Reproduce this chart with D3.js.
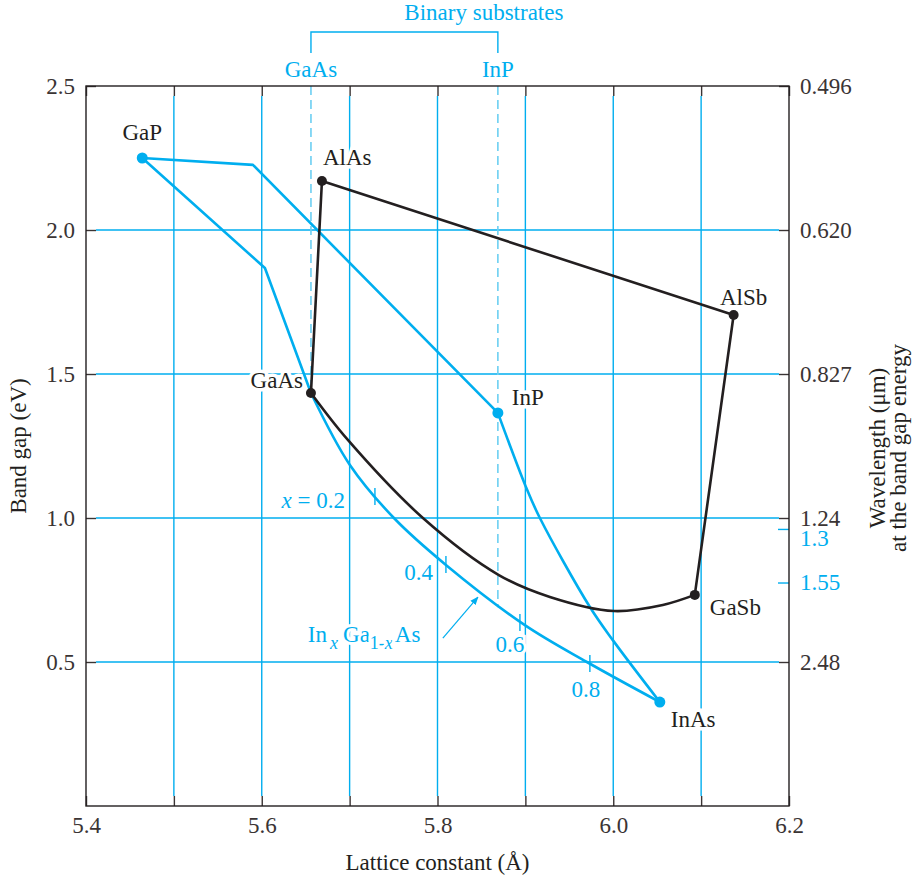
<!DOCTYPE html>
<html>
<head>
<meta charset="utf-8">
<script src="https://cdn.jsdelivr.net/npm/d3@7"></script>
<style>
  body { margin: 0; background: #fff; }
  text { font-family: "Liberation Serif", "Times New Roman", serif; font-size: 23px; fill: #231f20; }
</style>
</head>
<body>
<div id="chart"></div>
<script>
// --- data ---
const latticeTicks = [5.4, 5.5, 5.6, 5.7, 5.8, 5.9, 6.0, 6.1, 6.2];
const latticeTickLabels = ["5.4", "", "5.6", "", "5.8", "", "6.0", "", "6.2"];
const latticeGrid = [5.5, 5.6, 5.7, 5.8, 5.9, 6.0, 6.1];
const gapTicks = [0.5, 1.0, 1.5, 2.0, 2.5];
const gapTickLabels = ["0.5", "1.0", "1.5", "2.0", "2.5"];
const gapGrid = [0.5, 1.0, 1.5, 2.0];
const wavelengthTicks = [2.5, 2.0, 1.5, 1.0, 0.5];
const wavelengthLabels = ["0.496", "0.620", "0.827", "1.24", "2.48"];
const telecomTicks = [0.962, 0.776];
const telecomLabels = ["1.3", "1.55"];

// binary compounds: lattice constant (Å), band gap (eV)
const binaryNames = ["GaP", "AlAs", "AlSb", "GaAs", "InP", "GaSb", "InAs"];
const binaryLattice = [5.464, 5.6685, 6.137, 5.656, 5.8687, 6.0928, 6.053];
const binaryGap = [2.25, 2.17, 1.705, 1.434, 1.365, 0.733, 0.361];
const binaryFamily = ["cyan", "black", "black", "black", "cyan", "black", "cyan"];

// cyan ternaries
const gapToInP = [[5.464, 2.25], [5.590, 2.226], [5.8687, 1.365]];
const inPToInAs = [[5.8687, 1.365], [5.9006, 1.108], [5.9165, 1.0], [5.9734, 0.691],
  [5.9995, 0.576], [6.053, 0.361]];
const gapToGaAs = [[5.464, 2.25], [5.6036, 1.868], [5.656, 1.434]];
const inGaAs = [[5.656, 1.434], [5.7003, 1.184], [5.7504, 1.0], [5.8096, 0.837],
  [5.8994, 0.628], [5.970, 0.50], [6.053, 0.361]];

// black ternaries
const alEdges = [[5.656, 1.434], [5.6685, 2.17], [6.137, 1.705], [6.0928, 0.733]];
const gaAsToGaSb = [[5.656, 1.434], [5.698, 1.271], [5.7834, 1.0], [5.8698, 0.802],
  [5.9279, 0.726], [6.0007, 0.677], [6.0564, 0.698], [6.0928, 0.733]];

// In(x)Ga(1-x)As composition marks
const compositionLabels = ["0.2", "0.4", "0.6", "0.8"];
const compositionLattice = [5.7288, 5.8096, 5.8938, 5.9734];
const compositionGap = [1.073, 0.837, 0.635, 0.493];

// binary substrate guides
const substrateNames = ["GaAs", "InP"];
const substrateLattice = [5.656, 5.8687];
const substrateGapEnd = [1.434, 0.69];

// --- layout ---
const cyan = "#00aeef";
const ink = "#231f20";
const tickInk = "#3a3434";
const margin = { top: 86, right: 129, bottom: 76, left: 86 };
const width = 918 - margin.left - margin.right;
const height = 882 - margin.top - margin.bottom;
const tickLen = 10;

const svg = d3.select("#chart").append("svg")
  .attr("width", 918)
  .attr("height", 882);

const chart = svg.append("g")
  .attr("transform", `translate(${margin.left},${margin.top})`);

const x = d3.scaleLinear().domain([5.4, 6.2]).range([0, width]);
const y = d3.scaleLinear().domain([0, 2.5]).range([height, 0]);

// gridlines
chart.selectAll(".vgrid")
  .data(latticeGrid)
  .join("line")
  .attr("class", "vgrid")
  .attr("x1", d => x(d)).attr("x2", d => x(d))
  .attr("y1", height - tickLen).attr("y2", tickLen)
  .attr("stroke", cyan).attr("stroke-width", 1.4);

chart.selectAll(".hgrid")
  .data(gapGrid)
  .join("line")
  .attr("class", "hgrid")
  .attr("x1", tickLen).attr("x2", width - tickLen)
  .attr("y1", d => y(d)).attr("y2", d => y(d))
  .attr("stroke", cyan).attr("stroke-width", 1.4);

// dashed substrate guides
chart.selectAll(".substrate")
  .data(substrateLattice)
  .join("line")
  .attr("class", "substrate")
  .attr("x1", d => x(d)).attr("x2", d => x(d))
  .attr("y1", 0).attr("y2", (d, i) => y(substrateGapEnd[i]))
  .attr("stroke", "#6ccff2").attr("stroke-width", 1.6)
  .attr("stroke-dasharray", "9,5");

// bracket above the plot
const bracketY = -54, bracketDrop = 21;
chart.append("path")
  .attr("d", `M${x(substrateLattice[0])},${bracketY + bracketDrop}V${bracketY}H${x(substrateLattice[1])}V${bracketY + bracketDrop}`)
  .attr("fill", "none").attr("stroke", cyan).attr("stroke-width", 1.4);

chart.append("text")
  .attr("x", x(substrateLattice[1]) - 14)
  .attr("y", -66)
  .attr("text-anchor", "middle")
  .style("fill", cyan)
  .text("Binary substrates");

chart.selectAll(".substrate-label")
  .data(substrateNames)
  .join("text")
  .attr("class", "substrate-label")
  .attr("x", (d, i) => x(substrateLattice[i]))
  .attr("y", -9)
  .attr("text-anchor", "middle")
  .style("fill", cyan)
  .text(d => d);

// axes
function styleAxis(g, color) {
  g.select(".domain").remove();
  g.selectAll(".tick line").attr("stroke", color).attr("stroke-width", 1.4);
  g.selectAll(".tick text")
    .attr("font-family", null).attr("font-size", null)
    .style("fill", color);
}

chart.append("g")
  .attr("transform", `translate(0,${height})`)
  .call(d3.axisBottom(x).tickValues(latticeTicks)
    .tickFormat((d, i) => latticeTickLabels[i])
    .tickSizeInner(-tickLen).tickSizeOuter(0).tickPadding(11))
  .call(g => styleAxis(g, tickInk));

chart.append("g")
  .call(d3.axisTop(x).tickValues(latticeTicks).tickFormat("")
    .tickSizeInner(-tickLen).tickSizeOuter(0))
  .call(g => styleAxis(g, tickInk));

chart.append("g")
  .call(d3.axisLeft(y).tickValues(gapTicks)
    .tickFormat((d, i) => gapTickLabels[i])
    .tickSizeInner(-tickLen).tickSizeOuter(0).tickPadding(11))
  .call(g => styleAxis(g, tickInk));

chart.append("g")
  .attr("transform", `translate(${width},0)`)
  .call(d3.axisRight(y).tickValues(wavelengthTicks)
    .tickFormat((d, i) => wavelengthLabels[i])
    .tickSizeInner(-tickLen).tickSizeOuter(0).tickPadding(11))
  .call(g => styleAxis(g, tickInk));

chart.append("g")
  .attr("transform", `translate(${width},0)`)
  .call(d3.axisRight(y).tickValues(telecomTicks)
    .tickFormat((d, i) => telecomLabels[i])
    .tickSizeInner(-11).tickSizeOuter(0).tickPadding(11))
  .call(g => styleAxis(g, cyan))
  .call(g => g.selectAll(".tick text").attr("y", (d, i) => i === 0 ? 9 : 0));

// frame
chart.append("rect")
  .attr("width", width).attr("height", height)
  .attr("fill", "none").attr("stroke", ink).attr("stroke-width", 1.4);

// axis titles
svg.append("text")
  .attr("x", margin.left + width / 2)
  .attr("y", 870)
  .attr("text-anchor", "middle")
  .text("Lattice constant (Å)");

svg.append("text")
  .attr("transform", `translate(26,${margin.top + height / 2}) rotate(-90)`)
  .attr("text-anchor", "middle")
  .text("Band gap (eV)");

svg.append("text")
  .attr("transform", `translate(885,${margin.top + height / 2 + 2}) rotate(-90)`)
  .attr("text-anchor", "middle")
  .text("Wavelength (μm)");

svg.append("text")
  .attr("transform", `translate(906,${margin.top + height / 2 + 2}) rotate(-90)`)
  .attr("text-anchor", "middle")
  .text("at the band gap energy");

// binary labels (white halo knocks out gridlines)
const labelOffsets = {
  GaP: [0, -18, "middle"], AlAs: [1, -16, "start"], AlSb: [10, -10, "middle"],
  GaAs: [-8, -5, "end"], InP: [14, -8, "start"], GaSb: [15, 20, "start"], InAs: [11, 25, "start"]
};

chart.selectAll(".binary-label")
  .data(binaryNames)
  .join("text")
  .attr("class", "binary-label")
  .attr("x", (d, i) => x(binaryLattice[i]) + labelOffsets[d][0])
  .attr("y", (d, i) => y(binaryGap[i]) + labelOffsets[d][1])
  .attr("text-anchor", d => labelOffsets[d][2])
  .attr("stroke", "#fff").attr("stroke-width", 7)
  .attr("paint-order", "stroke")
  .text(d => d);

// composition labels
const compOffsets = [[-30, 11, "end"], [-13, 15, "end"], [-10, 29, "middle"], [-4, 33, "middle"]];
const comp = chart.selectAll(".comp-label")
  .data(compositionLabels)
  .join("text")
  .attr("class", "comp-label")
  .attr("x", (d, i) => x(compositionLattice[i]) + compOffsets[i][0])
  .attr("y", (d, i) => y(compositionGap[i]) + compOffsets[i][1])
  .attr("text-anchor", (d, i) => compOffsets[i][2])
  .attr("stroke", "#fff").attr("stroke-width", 6)
  .attr("paint-order", "stroke")
  .style("fill", cyan);

comp.each(function (d, i) {
  const t = d3.select(this);
  if (i === 0) {
    t.append("tspan").style("font-style", "italic").text("x");
    t.append("tspan").text(" = " + d);
  } else {
    t.text(d);
  }
});

// lines
const line = d3.line().x(d => x(d[0])).y(d => y(d[1]));
const curve = d3.line().x(d => x(d[0])).y(d => y(d[1])).curve(d3.curveCatmullRom.alpha(0.5));

const paths = [
  { pts: gapToInP, gen: line, color: cyan },
  { pts: inPToInAs, gen: curve, color: cyan },
  { pts: gapToGaAs, gen: line, color: cyan },
  { pts: inGaAs, gen: curve, color: cyan },
  { pts: alEdges, gen: line, color: ink },
  { pts: gaAsToGaSb, gen: curve, color: ink }
];

chart.selectAll(".edge")
  .data(paths)
  .join("path")
  .attr("class", "edge")
  .attr("d", d => d.gen(d.pts))
  .attr("fill", "none")
  .attr("stroke", d => d.color)
  .attr("stroke-width", 2.6)
  .attr("stroke-linejoin", "round");

// composition tick marks on the InGaAs curve
chart.selectAll(".comp-tick")
  .data(compositionLattice)
  .join("line")
  .attr("class", "comp-tick")
  .attr("x1", d => x(d)).attr("x2", d => x(d))
  .attr("y1", (d, i) => y(compositionGap[i]) - 9)
  .attr("y2", (d, i) => y(compositionGap[i]) + 8)
  .attr("stroke", cyan).attr("stroke-width", 1.4);

// binary points
chart.selectAll(".binary")
  .data(binaryNames)
  .join("circle")
  .attr("class", "binary")
  .attr("cx", (d, i) => x(binaryLattice[i]))
  .attr("cy", (d, i) => y(binaryGap[i]))
  .attr("r", (d, i) => binaryFamily[i] === "cyan" ? 5.5 : 5)
  .attr("fill", (d, i) => binaryFamily[i] === "cyan" ? cyan : ink);

// InxGa1-xAs annotation with arrow
svg.append("defs").append("marker")
  .attr("id", "arrow")
  .attr("viewBox", "0 0 10 10")
  .attr("refX", 9).attr("refY", 5)
  .attr("markerWidth", 7).attr("markerHeight", 7)
  .attr("orient", "auto")
  .append("path")
  .attr("d", "M0,1L10,5L0,9Z")
  .attr("fill", cyan);

const arrowTail = [5.8061, 0.583];
const arrowHead = [5.846, 0.725];
chart.append("line")
  .attr("x1", x(arrowTail[0])).attr("y1", y(arrowTail[1]))
  .attr("x2", x(arrowHead[0])).attr("y2", y(arrowHead[1]))
  .attr("stroke", cyan).attr("stroke-width", 1.2)
  .attr("marker-end", "url(#arrow)");

const alloy = chart.append("text")
  .attr("x", x(arrowTail[0]) - 135)
  .attr("y", y(arrowTail[1]) + 4)
  .attr("stroke", "#fff").attr("stroke-width", 6)
  .attr("paint-order", "stroke")
  .style("fill", cyan);
alloy.append("tspan").text("In");
alloy.append("tspan").attr("dx", 3).attr("dy", 7).style("font-style", "italic").style("font-size", "18px").text("x");
alloy.append("tspan").attr("dx", 5).attr("dy", -7).text("Ga");
alloy.append("tspan").attr("dy", 7).style("font-size", "18px").text("1-");
alloy.append("tspan").style("font-style", "italic").style("font-size", "18px").text("x");
alloy.append("tspan").attr("dx", 2).attr("dy", -7).text("As");
</script>
</body>
</html>
